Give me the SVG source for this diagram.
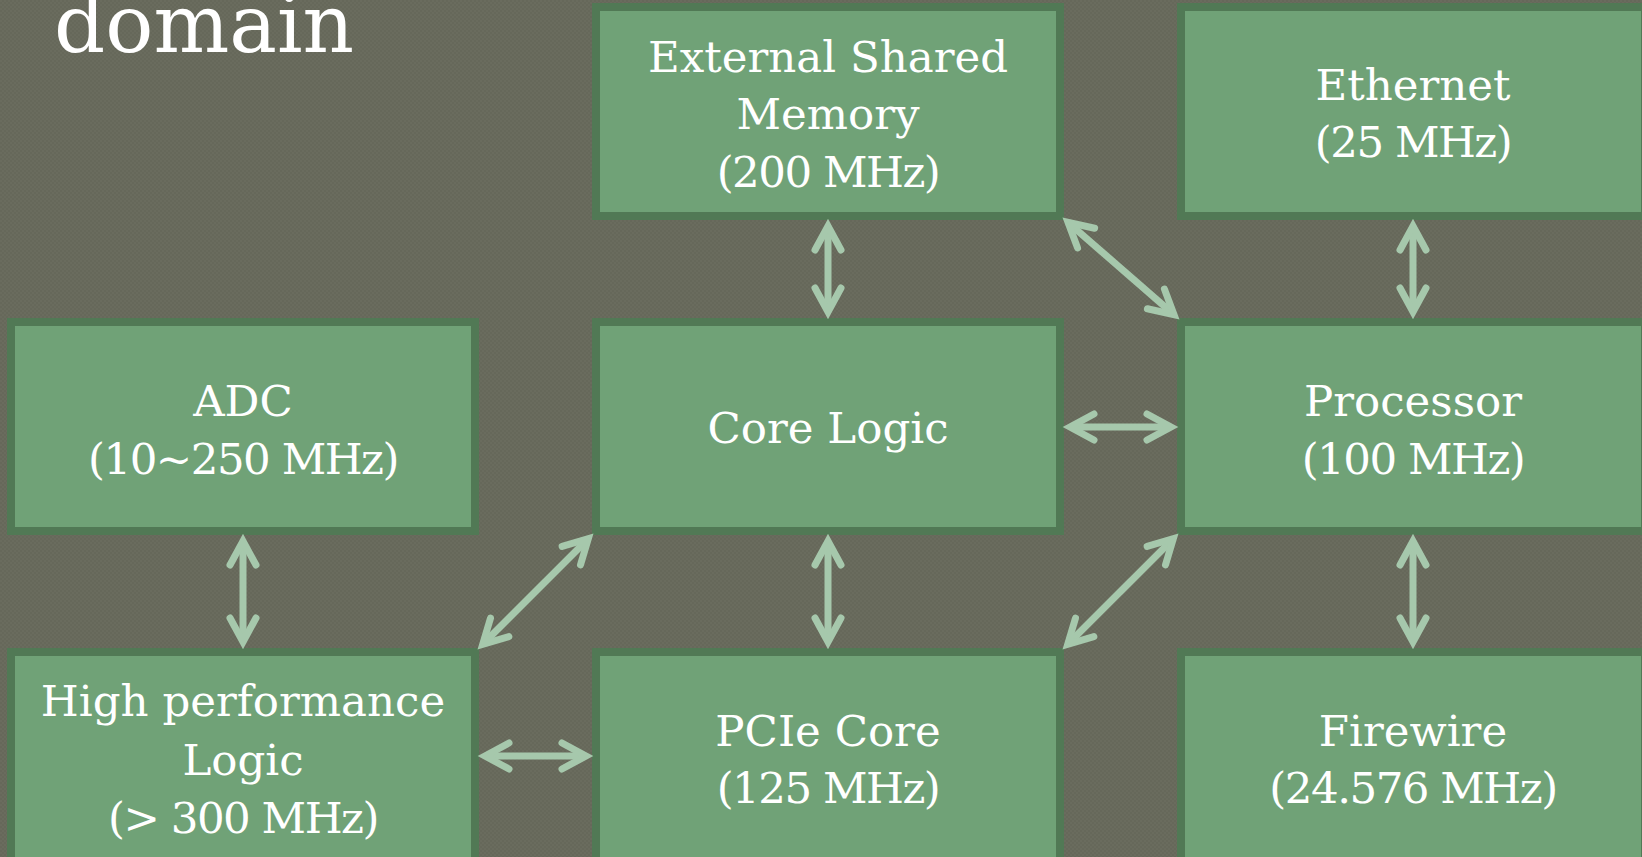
<svg xmlns="http://www.w3.org/2000/svg" width="1642" height="857" viewBox="0 0 1642 857">
  <defs>
    <style>
      .box rect { fill: #70a277; stroke: #517955; stroke-width: 8; }
      .box text { fill: #ffffff; font-family: "DejaVu Serif", "Liberation Serif", serif; font-size: 43.5px; text-anchor: middle; }
      .box text.freq { letter-spacing: -1.5px; }
      .title { fill: #ffffff; font-family: "DejaVu Serif", "Liberation Serif", serif; font-size: 80px; }
      .link { stroke: #a6c8ac; stroke-width: 7; fill: none; marker-start: url(#tip); marker-end: url(#tip); }
    </style>
    <!-- fine woven texture of the slide background -->
    <pattern id="grain" width="4" height="4" patternUnits="userSpaceOnUse">
      <rect width="4" height="4" fill="#66685a"/>
      <rect width="2" height="2" fill="#6a6c5e"/>
      <rect x="2" y="2" width="2" height="2" fill="#6a6c5e"/>
    </pattern>
    <!-- open chevron arrowhead, used at both ends of every link -->
    <marker id="tip" markerUnits="userSpaceOnUse" markerWidth="40" markerHeight="40" refX="0" refY="0" orient="auto-start-reverse" overflow="visible">
      <path d="M -24 -13 L 0 0 L -24 13" fill="none" stroke="#a6c8ac" stroke-width="7" stroke-linecap="round" stroke-linejoin="miter"/>
    </marker>
  </defs>

  <rect width="1642" height="857" fill="url(#grain)"/>

  <text class="title" x="54" y="52">domain</text>

  <!-- blocks: three columns x three rows -->
  <g id="ext-mem" class="box">
    <rect x="596" y="7" width="464" height="209"/>
    <text x="828" y="72">External Shared</text>
    <text x="828" y="129">Memory</text>
    <text class="freq" x="828" y="187">(200 MHz)</text>
  </g>
  <g id="ethernet" class="box">
    <rect x="1181" y="7" width="464" height="209"/>
    <text x="1413" y="100">Ethernet</text>
    <text class="freq" x="1413" y="157">(25 MHz)</text>
  </g>
  <g id="adc" class="box">
    <rect x="11" y="322" width="464" height="209"/>
    <text x="243" y="416">ADC</text>
    <text class="freq" x="243" y="474">(10~250 MHz)</text>
  </g>
  <g id="core-logic" class="box">
    <rect x="596" y="322" width="464" height="209"/>
    <text x="828" y="443">Core Logic</text>
  </g>
  <g id="processor" class="box">
    <rect x="1181" y="322" width="464" height="209"/>
    <text x="1413" y="416">Processor</text>
    <text class="freq" x="1413" y="474">(100 MHz)</text>
  </g>
  <g id="hp-logic" class="box">
    <rect x="11" y="652" width="464" height="209"/>
    <text x="243" y="716">High performance</text>
    <text x="243" y="775">Logic</text>
    <text class="freq" x="243" y="833">(&gt; 300 MHz)</text>
  </g>
  <g id="pcie" class="box">
    <rect x="596" y="652" width="464" height="209"/>
    <text x="828" y="746">PCIe Core</text>
    <text class="freq" x="828" y="803">(125 MHz)</text>
  </g>
  <g id="firewire" class="box">
    <rect x="1181" y="652" width="464" height="209"/>
    <text x="1413" y="746">Firewire</text>
    <text class="freq" x="1413" y="803">(24.576 MHz)</text>
  </g>

  <!-- bidirectional links -->
  <g id="links">
    <line class="link" x1="828" y1="226" x2="828" y2="312"/>
    <line class="link" x1="1413" y1="226" x2="1413" y2="312"/>
    <line class="link" x1="1068" y1="222.3" x2="1174" y2="314.7"/>
    <line class="link" x1="1070" y1="427" x2="1171" y2="427"/>
    <line class="link" x1="243" y1="541" x2="243" y2="642"/>
    <line class="link" x1="828" y1="541" x2="828" y2="642"/>
    <line class="link" x1="1413" y1="541" x2="1413" y2="642"/>
    <line class="link" x1="588.3" y1="538.7" x2="482.7" y2="644.3"/>
    <line class="link" x1="1173.3" y1="538.7" x2="1067.7" y2="644.3"/>
    <line class="link" x1="485" y1="756" x2="586" y2="756"/>
  </g>
</svg>
